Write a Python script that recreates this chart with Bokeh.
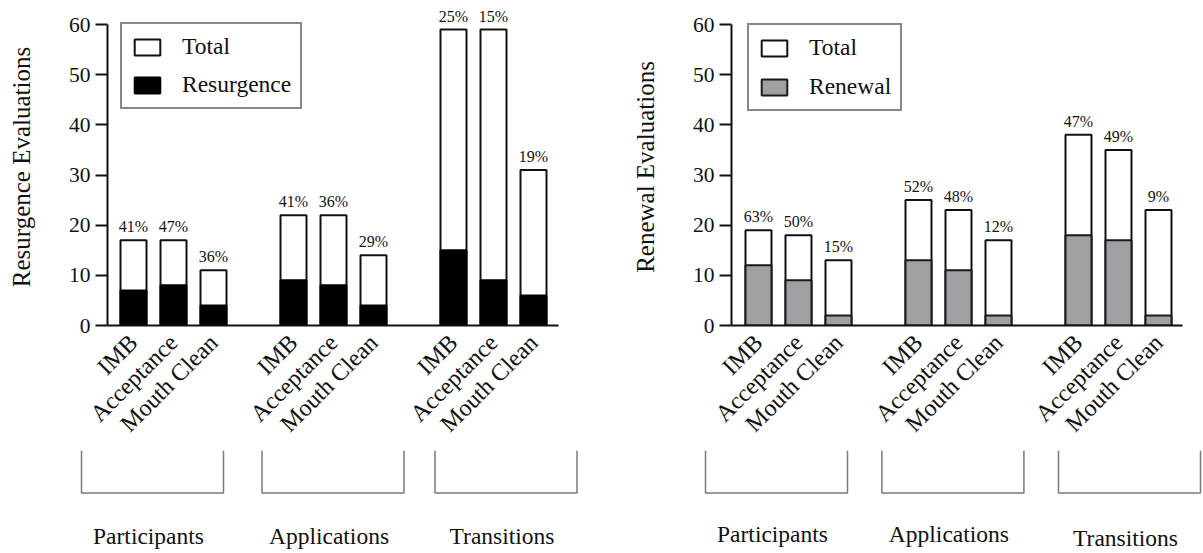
import math

from bokeh.core.properties import value
from bokeh.embed import file_html
from bokeh.layouts import column, row
from bokeh.models import ColumnDataSource, FixedTicker, Legend, LegendItem, Range1d
from bokeh.plotting import figure
from bokeh.resources import INLINE

# ---- data -------------------------------------------------------------
groups = ["Participants", "Applications", "Transitions"]
conditions = ["IMB", "Acceptance", "Mouth Clean"]

resurgence_total = [17, 17, 11, 22, 22, 14, 59, 59, 31]
resurgence_count = [7, 8, 4, 9, 8, 4, 15, 9, 6]

renewal_total = [19, 18, 13, 25, 23, 17, 38, 35, 23]
renewal_count = [12, 9, 2, 13, 11, 2, 18, 17, 2]

y_ticks = [0, 10, 20, 30, 40, 50, 60]

# ---- styling ----------------------------------------------------------
FONT = "Liberation Serif"
INK = "#111111"
PX_PER_UNIT = 40.0          # horizontal scale shared by the bar frame and the bracket strip
FRAME_W = 451
FRAME_TOP, AXIS_Y = 8, 325   # frame top edge and x-axis position, in page pixels
TOP_H, BOTTOM_H = 450, 103
PX_PER_Y = 301 / 60.0
Y_MAX = (AXIS_Y - FRAME_TOP) / PX_PER_Y


def bar_positions():
    return [g * 4 + c for g in range(len(groups)) for c in range(len(conditions))]


def make_panel(total, count, name, part_fill, part_line, ylabel,
               width, left, first_bar_px, legend_xy, legend_pad, legend_spacing,
               bracket_shift, bracket_half, label_y):
    xs = bar_positions()
    pct = [f"{round(100 * c / t)}%" for c, t in zip(count, total)]
    src = ColumnDataSource(dict(x=xs, total=total, count=count, pct=pct))

    x0 = -first_bar_px / PX_PER_UNIT
    right = width - left - FRAME_W
    p = figure(width=width, height=TOP_H,
               x_range=Range1d(x0, x0 + FRAME_W / PX_PER_UNIT),
               y_range=Range1d(0, Y_MAX),
               output_backend="svg", toolbar_location=None,
               min_border_left=left, min_border_right=right,
               min_border_top=FRAME_TOP, min_border_bottom=TOP_H - AXIS_Y,
               frame_align=False)
    p.outline_line_color = None
    p.xgrid.visible = False
    p.ygrid.visible = False
    p.background_fill_color = "white"
    p.border_fill_color = "white"

    r_total = p.vbar(x="x", top="total", bottom=0, width=0.65, source=src,
                     fill_color="white", line_color=INK, line_width=2)
    r_part = p.vbar(x="x", top="count", bottom=0, width=0.65, source=src,
                    fill_color=part_fill, line_color=part_line, line_width=2)
    p.text(x="x", y="total", text="pct", source=src, y_offset=-5,
           text_align="center", text_baseline="bottom",
           text_font=value(FONT), text_font_size="16px", text_color=INK)

    ya = p.yaxis[0]
    ya.ticker = FixedTicker(ticks=y_ticks)
    ya.bounds = (0, 60)
    ya.axis_label = ylabel
    ya.axis_label_text_font = FONT
    ya.axis_label_text_font_style = "normal"
    ya.axis_label_text_font_size = "25px"
    ya.axis_label_text_color = INK
    ya.axis_label_standoff = 31
    ya.major_label_text_font = FONT
    ya.major_label_text_font_size = "21.5px"
    ya.major_label_text_color = INK
    ya.major_label_standoff = 5
    ya.major_tick_out = 12
    ya.major_tick_in = 0
    ya.minor_tick_out = 0
    ya.minor_tick_in = 0
    ya.axis_line_width = 2
    ya.major_tick_line_width = 2
    ya.axis_line_color = INK
    ya.major_tick_line_color = INK

    xa = p.xaxis[0]
    xa.ticker = FixedTicker(ticks=xs)
    xa.major_label_overrides = {x: conditions[i % 3] for i, x in enumerate(xs)}
    xa.major_label_orientation = math.pi / 4
    xa.major_label_text_font = FONT
    xa.major_label_text_font_size = "24px"
    xa.major_label_text_color = INK
    xa.major_label_standoff = 13
    xa.major_tick_out = 0
    xa.major_tick_in = 0
    xa.minor_tick_out = 0
    xa.minor_tick_in = 0
    xa.axis_line_width = 2
    xa.axis_line_color = INK

    legend = Legend(items=[LegendItem(label="Total", renderers=[r_total]),
                           LegendItem(label=name, renderers=[r_part])],
                    location=legend_xy, orientation="vertical",
                    border_line_color=INK, border_line_width=2,
                    background_fill_color="white", background_fill_alpha=1,
                    padding=legend_pad, spacing=legend_spacing, margin=0,
                    glyph_width=32, glyph_height=20, label_standoff=19,
                    label_text_font=FONT, label_text_font_size="23.5px",
                    label_text_color=INK)
    p.add_layout(legend)

    # bracket strip with the group names underneath
    bx0 = x0 - left / PX_PER_UNIT
    b = figure(width=width, height=BOTTOM_H,
               x_range=Range1d(bx0, bx0 + width / PX_PER_UNIT),
               y_range=Range1d(BOTTOM_H, 0),
               output_backend="svg", toolbar_location=None,
               x_axis_location=None, y_axis_location=None, min_border=0,
               frame_align=False)
    b.outline_line_color = None
    b.xgrid.visible = False
    b.ygrid.visible = False
    b.background_fill_color = "white"
    b.border_fill_color = "white"

    centers = [g * 4 + 1 + s for g, s in enumerate(bracket_shift)]
    bxs = [[c - bracket_half, c - bracket_half, c + bracket_half, c + bracket_half] for c in centers]
    bys = [[0, 42.5, 42.5, 0] for _ in centers]
    b.multi_line(xs=bxs, ys=bys, line_color="#7a7a7a", line_width=1.5)
    b.text(x=[c - 0.1 for c in centers], y=label_y, text=groups,
           text_align="center", text_baseline="middle",
           text_font=value(FONT), text_font_size="23.5px", text_color=INK)

    return column(p, b, spacing=0)


left_panel = make_panel(resurgence_total, resurgence_count, "Resurgence",
                        "#000000", "#000000", "Resurgence Evaluations",
                        width=600, left=107, first_bar_px=26,
                        legend_xy=(13, 216), legend_pad=9, legend_spacing=11,
                        bracket_shift=[-0.525, -0.0125, 0.3125], bracket_half=1.775,
                        label_y=[85, 85, 85])

right_panel = make_panel(renewal_total, renewal_count, "Renewal",
                         "#a0a0a4", "#1a1a1a", "Renewal Evaluations",
                         width=603, left=131, first_bar_px=27,
                         legend_xy=(16, 214), legend_pad=9, legend_spacing=12,
                         bracket_shift=[-0.55, -0.14, 0.275], bracket_half=1.775,
                         label_y=[83, 83, 87])

layout = row(left_panel, right_panel, spacing=0)

open("out.html", "w").write(file_html(layout, INLINE))
